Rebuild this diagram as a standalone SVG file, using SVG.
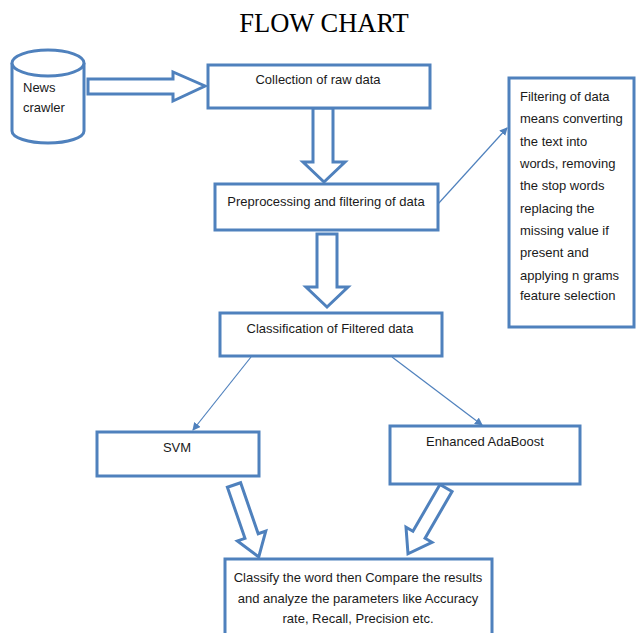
<svg xmlns="http://www.w3.org/2000/svg" width="636" height="633" viewBox="0 0 636 633">
<style>
.box{fill:#fff;stroke:#4F81BD;stroke-width:3}
.blk{fill:#fff;stroke:#4F81BD;stroke-width:3;stroke-linejoin:miter}
.ln{stroke:#4F81BD;stroke-width:1.2;fill:none}
.t{font-family:"Liberation Sans",Arial,sans-serif;font-size:13px;fill:#1a1a1a}
.c{text-anchor:middle}
.title{font-family:"Liberation Serif","Times New Roman",serif;font-size:26.5px;fill:#000;text-anchor:middle}
</style>
<defs>
<marker id="ah" markerWidth="8" markerHeight="8" refX="7" refY="4" orient="auto" markerUnits="userSpaceOnUse">
<path d="M0,0 L8,4 L0,8 Z" fill="#4F81BD"/>
</marker>
<polygon id="darrow" points="-7,0 7,0 7,54 15,54 0,76 -15,54 -7,54"/>
</defs>
<rect width="636" height="633" fill="#fff"/>
<text class="title" x="324" y="32">FLOW CHART</text>

<g id="connectors">
<polygon class="blk" points="88,79 173,79 173,72 205,86 173,101 173,94 88,94"/>
<polygon class="blk" points="313,108 333,108 333,162 345,162 324,182 303,162 313,162"/>
<polygon class="blk" points="317,234 337,234 337,287 348,287 327,307 306,287 317,287"/>
<line class="ln" x1="438" y1="204" x2="507" y2="128" marker-end="url(#ah)"/>
<line class="ln" x1="251" y1="357" x2="193" y2="430" marker-end="url(#ah)"/>
<line class="ln" x1="392" y1="357" x2="482" y2="425" marker-end="url(#ah)"/>
<use href="#darrow" class="blk" transform="translate(234,485) rotate(-19)"/>
<use href="#darrow" class="blk" transform="translate(446,488) rotate(30)"/>
</g>

<g id="news-crawler">
<path class="box" d="M12,63 L12,131 A36,12 0 0 0 84,131 L84,63"/>
<ellipse class="box" cx="48" cy="63" rx="36" ry="13"/>
<text class="t" x="23" y="92">News</text>
<text class="t" x="23" y="112">crawler</text>
</g>

<g id="collection">
<rect class="box" x="208" y="65" width="222" height="43"/>
<text class="t c" x="318" y="84">Collection of raw data</text>
</g>

<g id="preprocessing">
<rect class="box" x="215" y="184" width="223" height="46"/>
<text class="t c" x="326" y="206">Preprocessing and filtering of data</text>
</g>

<g id="note">
<rect class="box" x="509" y="78" width="125" height="249"/>
<text class="t" x="520" y="101">Filtering of data</text>
<text class="t" x="520" y="123">means converting</text>
<text class="t" x="520" y="146">the text into</text>
<text class="t" x="520" y="168">words, removing</text>
<text class="t" x="520" y="190">the stop words</text>
<text class="t" x="520" y="213">replacing the</text>
<text class="t" x="520" y="235">missing value if</text>
<text class="t" x="520" y="257">present and</text>
<text class="t" x="520" y="280">applying n grams</text>
<text class="t" x="520" y="300">feature selection</text>
</g>

<g id="classification">
<rect class="box" x="220" y="313" width="222" height="43"/>
<text class="t c" x="330" y="333">Classification of Filtered data</text>
</g>

<g id="svm">
<rect class="box" x="97" y="432" width="162" height="44"/>
<text class="t c" x="177" y="452">SVM</text>
</g>

<g id="adaboost">
<rect class="box" x="390" y="426" width="190" height="58"/>
<text class="t c" x="485" y="446">Enhanced AdaBoost</text>
</g>

<g id="result">
<rect class="box" x="225" y="559" width="267" height="90"/>
<text class="t c" x="358" y="582">Classify the word then Compare the results</text>
<text class="t c" x="358" y="603">and analyze the parameters like Accuracy</text>
<text class="t c" x="358" y="623">rate, Recall, Precision etc.</text>
</g>
</svg>
